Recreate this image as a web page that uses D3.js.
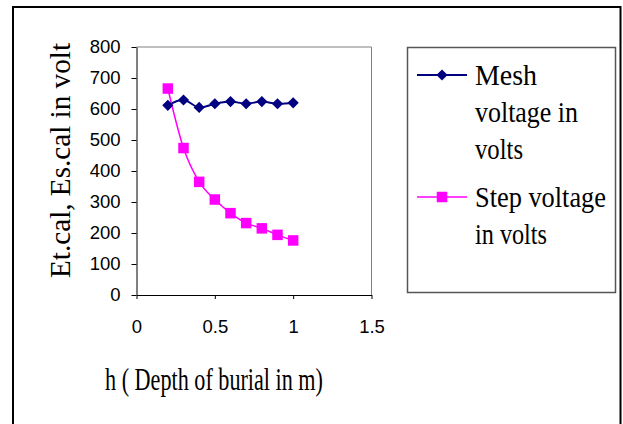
<!DOCTYPE html>
<html>
<head>
<meta charset="utf-8">
<script src="https://cdn.jsdelivr.net/npm/d3@7"></script>
<style>
  html, body { margin: 0; padding: 0; background: #fff; }
  svg { display: block; }
</style>
</head>
<body>
<svg id="chart" width="623" height="424"></svg>
<script>
// ---- data ----
const depths = [0.2, 0.3, 0.4, 0.5, 0.6, 0.7, 0.8, 0.9, 1.0];
const meshVoltage = [612, 629, 605, 617, 624, 617, 624, 617, 620];
const stepVoltage = [666, 474, 365, 308, 264, 232, 215, 194, 176];
const xTicks = [0, 0.5, 1, 1.5];
const xTickLabels = ["0", "0.5", "1", "1.5"];
const yTicks = [0, 100, 200, 300, 400, 500, 600, 700, 800];
const seriesNames = ["Mesh voltage in volts", "Step voltage in volts"];
const legendLines = [["Mesh", "voltage in", "volts"], ["Step voltage", "in volts"]];
const xTitle = "h ( Depth of burial in m)";
const yTitle = "Et.cal, Es.cal in volt";

// ---- layout ----
const svg = d3.select("#chart");
const plot = { left: 136.5, right: 371.5, top: 47, bottom: 295 };
const x = d3.scaleLinear().domain([0, 1.5]).range([plot.left, plot.right]);
const y = d3.scaleLinear().domain([0, 800]).range([plot.bottom, plot.top]);

// outer border
svg.append("rect").attr("x", 13).attr("y", 7).attr("width", 607.5).attr("height", 430)
  .attr("fill", "none").attr("stroke", "#000").attr("stroke-width", 2);

// plot area frame (top & right gray)
svg.append("path")
  .attr("d", `M${plot.left},${plot.top}H${plot.right}V${plot.bottom}`)
  .attr("fill", "none").attr("stroke", "#808080").attr("stroke-width", 1);

const tickFont = "'Liberation Sans', Arial, sans-serif";
const serif = "'Liberation Serif', 'Times New Roman', serif";

// y axis
const yAxis = svg.append("g").attr("transform", `translate(${plot.left},0)`)
  .call(d3.axisLeft(y).tickValues(yTicks).tickSize(5).tickPadding(11).tickSizeOuter(0));
yAxis.select(".domain").attr("stroke", "#000");
yAxis.selectAll(".tick line").attr("stroke", "#000");
yAxis.selectAll("text").attr("font-family", tickFont).attr("font-size", 18.5).attr("fill", "#000");

// x axis
const xAxis = svg.append("g").attr("transform", `translate(0,${plot.bottom})`)
  .call(d3.axisBottom(x).tickValues(xTicks).tickFormat((d, i) => xTickLabels[i])
    .tickSize(4).tickPadding(21).tickSizeOuter(0));
xAxis.select(".domain").attr("stroke", "#000");
xAxis.selectAll(".tick line").attr("stroke", "#000");
xAxis.selectAll("text").attr("font-family", tickFont).attr("font-size", 18.5).attr("fill", "#000");

// axis titles
svg.append("text").text(xTitle)
  .attr("x", 105).attr("y", 390)
  .attr("font-family", serif).attr("font-size", 31).attr("fill", "#000")
  .attr("textLength", 218).attr("lengthAdjust", "spacingAndGlyphs");

svg.append("text").text(yTitle)
  .attr("transform", "translate(69.5,160.5) rotate(-90)")
  .attr("text-anchor", "middle")
  .attr("font-family", serif).attr("font-size", 29).attr("fill", "#000")
  .attr("textLength", 235).attr("lengthAdjust", "spacingAndGlyphs");

// series
const meshColor = "#000080", stepColor = "#FF00FF";
const line = d3.line().x(d => x(d[0])).y(d => y(d[1])).curve(d3.curveCatmullRom.alpha(0));
const meshData = depths.map((d, i) => [d, meshVoltage[i]]);
const stepData = depths.map((d, i) => [d, stepVoltage[i]]);

svg.append("path").datum(meshData).attr("d", line)
  .attr("fill", "none").attr("stroke", meshColor).attr("stroke-width", 2);
svg.append("path").datum(stepData).attr("d", line)
  .attr("fill", "none").attr("stroke", stepColor).attr("stroke-width", 1.5);

const diamond = d3.symbol().type(d3.symbolDiamond2).size(80);
svg.selectAll(".mesh-pt").data(meshData).enter().append("path")
  .attr("transform", d => `translate(${x(d[0])},${y(d[1])})`)
  .attr("d", diamond).attr("fill", meshColor);

const sq = 10.5;
svg.selectAll(".step-pt").data(stepData).enter().append("rect")
  .attr("x", d => x(d[0]) - sq / 2).attr("y", d => y(d[1]) - sq / 2)
  .attr("width", sq).attr("height", sq).attr("fill", stepColor);

// legend
svg.append("rect").attr("x", 407.5).attr("y", 47.5).attr("width", 208).attr("height", 245)
  .attr("fill", "none").attr("stroke", "#555").attr("stroke-width", 1.5);

const legendLengths = [[62, 103, 48], [131, 72]];
const legendTop = [85, 207];
const legendMarkerY = [75, 197];
const lineGap = 37;
seriesNames.forEach((name, s) => {
  const g = svg.append("g");
  const col = s === 0 ? meshColor : stepColor;
  g.append("line").attr("x1", 417).attr("x2", 467)
    .attr("y1", legendMarkerY[s]).attr("y2", legendMarkerY[s])
    .attr("stroke", col).attr("stroke-width", s === 0 ? 2 : 1.5);
  if (s === 0) {
    g.append("path").attr("transform", `translate(442,${legendMarkerY[s]})`)
      .attr("d", diamond).attr("fill", col);
  } else {
    g.append("rect").attr("x", 442 - sq / 2).attr("y", legendMarkerY[s] - sq / 2)
      .attr("width", sq).attr("height", sq).attr("fill", col);
  }
  legendLines[s].forEach((t, k) => {
    g.append("text").text(t)
      .attr("x", 475).attr("y", legendTop[s] + k * lineGap)
      .attr("font-family", serif).attr("font-size", 30).attr("fill", "#000")
      .attr("textLength", legendLengths[s][k]).attr("lengthAdjust", "spacingAndGlyphs");
  });
});
</script>
</body>
</html>
